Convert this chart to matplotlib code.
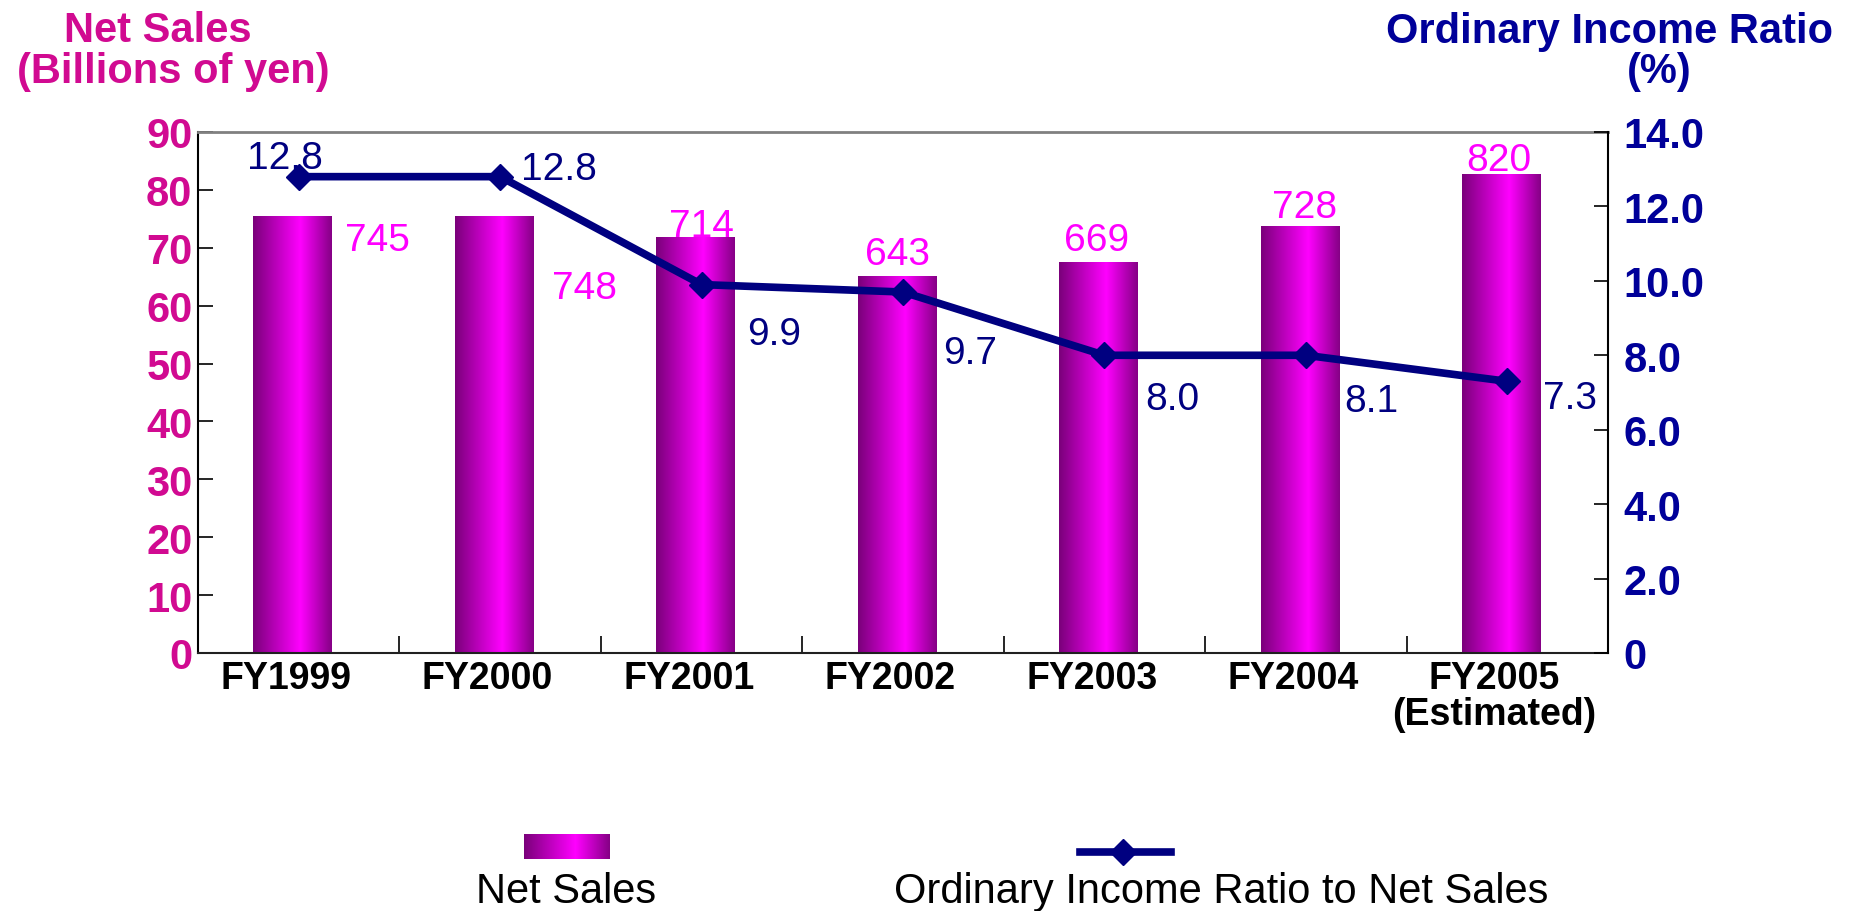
import numpy as np
import matplotlib
matplotlib.use("Agg")
import matplotlib.pyplot as plt
from matplotlib.colors import LinearSegmentedColormap
from matplotlib.lines import Line2D

# ---------------- data ----------------
categories = ["FY1999", "FY2000", "FY2001", "FY2002", "FY2003", "FY2004", "FY2005\n(Estimated)"]
net_sales_heights = [75.4, 75.4, 71.8, 65.1, 67.4, 73.7, 82.7]
net_sales_labels = ["745", "748", "714", "643", "669", "728", "820"]
ratio_values = [12.8, 12.8, 9.9, 9.7, 8.0, 8.0, 7.3]
ratio_labels = ["12.8", "12.8", "9.9", "9.7", "8.0", "8.1", "7.3"]
left_ticks = [0, 10, 20, 30, 40, 50, 60, 70, 80, 90]
right_ticks = [0, 2, 4, 6, 8, 10, 12, 14]
right_tick_labels = ["0", "2.0", "4.0", "6.0", "8.0", "10.0", "12.0", "14.0"]

# ---------------- style ----------------
PINK = "#D10A91"
MAGENTA = "#FF00FF"
NAVY = "#000080"
NAVY_TXT = "#000099"
BAR_SHIFT = -0.03
LABEL_SHIFT = -0.063
bar_label_offsets = [(57, -24), (61, -59), (0, 1), (-4, 9), (-6, 9), (-1, 7), (-6, 3)]
ratio_label_offsets = [(-10, 6), (42, -2), (52, -43), (48, -51), (49, -39), (47, -40), (45, -19)]

plt.rcParams['font.family'] = ['Liberation Sans', 'DejaVu Sans']

W, H = 1861, 912
fig = plt.figure(figsize=(W / 100, H / 100), dpi=100)
ax = fig.add_axes([198 / W, 1 - 654 / H, (1608 - 198) / W, (654 - 133) / H])

x = np.arange(len(categories))
ax.set_xlim(-0.5, len(categories) - 0.5)
ax.set_ylim(0, 90)

cmap = LinearSegmentedColormap.from_list(
    "bar", [(0.0, "#7A007A"), (0.6, "#FF00FF"), (1.0, "#850085")])
grad = np.linspace(0, 1, 256).reshape(1, -1)

bars = ax.bar(x + BAR_SHIFT, net_sales_heights, width=0.39, color="none",
              edgecolor="none", zorder=2)
for b in bars:
    x0, y0, w, h = b.get_x(), b.get_y(), b.get_width(), b.get_height()
    ax.imshow(grad, cmap=cmap, extent=(x0, x0 + w, y0, y0 + h),
              aspect="auto", zorder=2, interpolation="bilinear")
ax.set_xlim(-0.5, len(categories) - 0.5)
ax.set_ylim(0, 90)

for xi, hi, lbl, off in zip(x, net_sales_heights, net_sales_labels, bar_label_offsets):
    ax.annotate(lbl, (xi, hi), xytext=off, textcoords="offset points",
                ha="center", va="baseline", fontsize=28, color=MAGENTA, zorder=1)

ax.set_yticks(left_ticks)
ax.set_yticklabels([str(v) for v in left_ticks], fontsize=30,
                   fontweight="bold", color=PINK)
ax.tick_params(axis="y", direction="in", length=11, width=1.2, pad=4)

ax.set_xticks(x + LABEL_SHIFT)
ax.set_xticklabels(categories, fontsize=27, fontweight="bold", color="black",
                   linespacing=1.0)
ax.tick_params(axis="x", which="major", length=0, pad=5)
ax.set_xticks(np.arange(0.5, len(categories) - 0.5, 1.0), minor=True)
ax.tick_params(axis="x", which="minor", direction="in", length=12, width=1.2)

ax.spines["top"].set_color("#808080")
ax.spines["top"].set_linewidth(2)
ax.spines["left"].set_linewidth(1.5)
ax.spines["bottom"].set_linewidth(1.5)
ax.spines["bottom"].set_color("#202020")
ax.spines["right"].set_visible(False)

ax2 = ax.twinx()
ax2.set_ylim(0, 14)
ax2.plot(x, ratio_values, color=NAVY, lw=5.5, marker="D", ms=13,
         markerfacecolor=NAVY, markeredgecolor=NAVY, zorder=3)
for xi, vi, lbl, off in zip(x, ratio_values, ratio_labels, ratio_label_offsets):
    ax2.annotate(lbl, (xi, vi), xytext=off, textcoords="offset points",
                 ha="center", va="baseline", fontsize=28, color=NAVY)
ax2.set_yticks(right_ticks)
ax2.set_yticklabels(right_tick_labels, fontsize=30, fontweight="bold", color=NAVY_TXT)
ax2.tick_params(axis="y", direction="in", length=10, width=1.2, pad=11)
for s in ["top", "left", "bottom"]:
    ax2.spines[s].set_visible(False)
ax2.spines["right"].set_linewidth(1.5)

# titles
fig.text(158 / W, 1 - 41.7 / H, "Net Sales", ha="center", va="baseline",
         fontsize=30, fontweight="bold", color=PINK)
fig.text(173 / W, 1 - 82.7 / H, "(Billions of yen)", ha="center", va="baseline",
         fontsize=30, fontweight="bold", color=PINK)
fig.text(1610 / W, 1 - 42.5 / H, "Ordinary Income Ratio", ha="center", va="baseline",
         fontsize=30, fontweight="bold", color=NAVY_TXT)
fig.text(1659 / W, 1 - 82.7 / H, "(%)", ha="center", va="baseline",
         fontsize=30, fontweight="bold", color=NAVY_TXT)

# legend
lax = fig.add_axes([524 / W, 1 - 860 / H, 86 / W, 25 / H])
lax.imshow(grad, cmap=cmap, aspect="auto", interpolation="bilinear")
lax.set_axis_off()
fig.add_artist(Line2D([1080 / W, 1171 / W], [1 - 852.7 / H, 1 - 852.7 / H],
                      transform=fig.transFigure, color=NAVY, lw=5.5))
fig.add_artist(Line2D([1123 / W], [1 - 852.7 / H], transform=fig.transFigure,
                      color=NAVY, marker="D", ms=13, lw=0))
fig.text(566 / W, 1 - 903 / H, "Net Sales", ha="center", va="baseline",
         fontsize=30, color="black")
fig.text(1221 / W, 1 - 903 / H, "Ordinary Income Ratio to Net Sales", ha="center",
         va="baseline", fontsize=30, color="black")

fig.savefig("out.png", dpi=100)
